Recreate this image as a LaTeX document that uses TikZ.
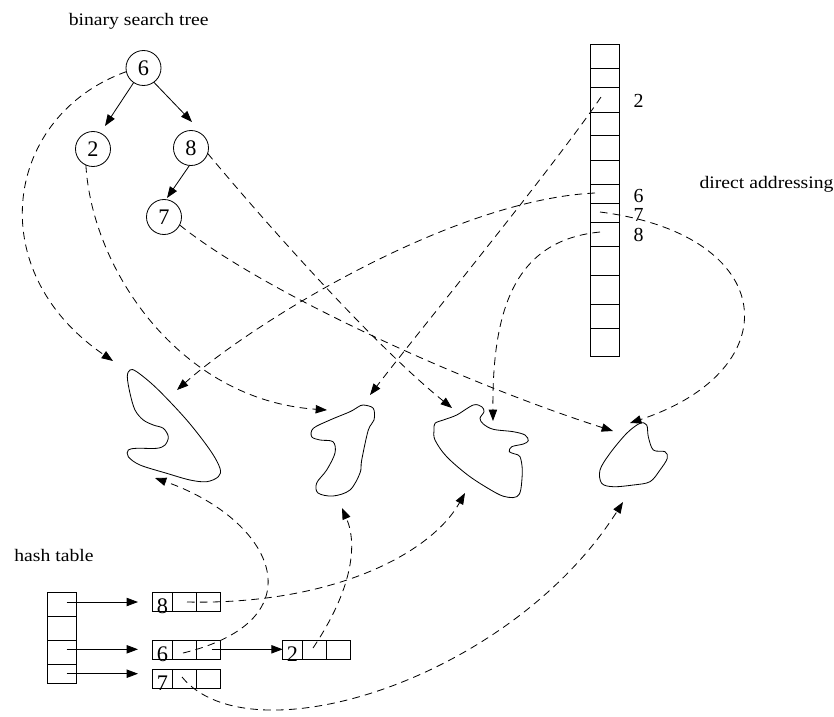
\documentclass[tikz,border=0pt]{standalone}
\usepackage{fontspec}
\setmainfont{Liberation Serif}
\newfontfamily\lblfont[FakeStretch=1.12]{Liberation Serif}
\usetikzlibrary{arrows.meta}
\begin{document}
\begin{tikzpicture}[x=0.03cm,y=-0.03cm,
  every node/.style={inner sep=0pt,outer sep=0pt},
  line/.style={line width=0.7pt},
  tip/.style={-{Triangle[length=3.4mm,width=2.5mm]}},
  link/.style={line width=0.7pt,dash pattern=on 6.5pt off 4.5pt,-{Triangle[length=3.4mm,width=2.5mm]}},
  treenode/.style={circle,draw,line width=0.7pt,minimum size=1.05cm,font=\fontsize{19}{19}\selectfont},
  lbl/.style={font=\lblfont\fontsize{15}{15}\selectfont},
  dig/.style={font=\fontsize{19}{19}\selectfont},
  dalbl/.style={font=\fontsize{17}{17}\selectfont},
  blob/.style={line width=0.7pt}
]
\useasboundingbox (0,0) rectangle (834,716);

% labels
\node[lbl,anchor=base] (tbst) at (138.7,25) {binary search tree};
\node[lbl,anchor=base east] (tda) at (833.5,188.3) {direct addressing};
\node[lbl,anchor=base] (tht) at (54,561) {hash table};

% tree
\node[treenode] (n6) at (143.5,68) {6};
\node[treenode] (n2) at (93,149) {2};
\node[treenode] (n8) at (191,148) {8};
\node[treenode] (n7) at (164,217) {7};
\coordinate (t2) at (105,126);
\coordinate (t8) at (192,122);
\coordinate (t7) at (167,198);
\draw[line,tip] (n6.236) -- (t2);
\draw[line,tip] (n6.-54) -- (t8);
\draw[line,tip] (n8.-95) -- (t7);

% direct addressing array
\draw[line] (590,44.3) rectangle (619,356.7);
\foreach \y in {68.3,87.7,112.3,135.7,160,184,203.3,222.3,246,275,304,328.3}
  \draw[line] (590,\y) -- (619,\y);
\node[dalbl] (d2) at (638.5,100.5) {2};
\node[dalbl] (d6) at (638.5,196) {6};
\node[dalbl] (d7) at (638.5,215) {7};
\node[dalbl] (d8) at (638.5,234.7) {8};
\coordinate (da2) at (601,97);
\coordinate (da6) at (595,193);
\coordinate (da7) at (600,212);
\coordinate (da8) at (600,232);

% blobs
\draw[blob] plot[smooth cycle,tension=0.55] coordinates {(130,370) (136.7,371.7) (156.7,388.3) (186.7,420) (210,450) (220,468.3) (218.3,476.7) (206.7,481.7) (190,480) (166.7,473.3) (140,465) (128.3,456.7) (128.3,450) (136.7,448.3) (156.7,448.3) (165,445) (168.3,436.7) (163.3,428.3) (153.3,425) (143.3,420) (135,410) (130,393.3) (127.3,376.7)};
\draw[blob] plot[smooth cycle,tension=0.55] coordinates {(363.3,405) (373.3,408.3) (374,420) (368.3,430) (361.7,460) (360,473) (350,490) (333,496) (318,493) (316.7,483) (326.7,470) (335,453) (333,441.7) (320,440) (311.7,436.7) (313.3,428.3) (330,420) (350,411.7) (358,407)};
\draw[blob] plot[smooth cycle,tension=0.55] coordinates {(435,423.3) (443.3,420) (456.7,415) (473.3,405) (481.7,406.7) (484,411.7) (480,418.3) (483.3,424) (493.3,429.3) (513.3,431.7) (525,435) (528.3,440.7) (523.3,444) (511.7,446.7) (509.3,451.7) (515,454) (520,456.7) (522.3,470) (520.7,490) (516.7,496.7) (508.3,497.3) (496.7,493.3) (470,476.7) (446.7,456.7) (435,440) (434,430)};
\draw[blob] plot[smooth cycle,tension=0.55] coordinates {(600,470) (610,453.3) (626.7,433.3) (640,423.3) (646.7,425) (648.3,436.7) (653.3,450) (665,451.7) (667.3,458.3) (660,470) (650,481.7) (633.3,485) (613.3,486.7) (601.7,483.3)};

% hash table
\draw[line] (47.3,592.3) rectangle (76,683.3);
\foreach \y in {616.7,640.7,664.3}
  \draw[line] (47.3,\y) -- (76,\y);
\coordinate (h1) at (66.7,602);
\coordinate (h3) at (66.7,649.3);
\coordinate (h4) at (66.7,673.7);
\coordinate (h1t) at (138,602);
\coordinate (h3t) at (138,649.3);
\coordinate (h4t) at (138,673.7);
\draw[line,tip] (h1) -- (h1t);
\draw[line,tip] (h3) -- (h3t);
\draw[line,tip] (h4) -- (h4t);

% records
\foreach \yt/\yb in {592.3/611.7,640.7/659.3,669/688.3}{
  \draw[line] (152.7,\yt) rectangle (220,\yb);
  \draw[line] (172.3,\yt) -- (172.3,\yb);
  \draw[line] (196.3,\yt) -- (196.3,\yb);
}
\draw[line] (282.7,640.7) rectangle (350,659.3);
\draw[line] (302.3,640.7) -- (302.3,659.3);
\draw[line] (326,640.7) -- (326,659.3);
\node[dig,anchor=base] (r8) at (162.5,613) {8};
\node[dig,anchor=base] (r6) at (162.5,661) {6};
\node[dig,anchor=base] (r7) at (162.5,690) {7};
\node[dig,anchor=base] (r2) at (292.5,661) {2};
\coordinate (s62) at (211.7,649.3);
\coordinate (s62t) at (282.7,649.3);
\draw[line,tip] (s62) -- (s62t);
\coordinate (hs8) at (187,602);
\coordinate (hs6) at (183,653);
\coordinate (hs7) at (182,677);
\coordinate (hs2) at (313,648);

% arrow tips at the blobs
\coordinate (b1a) at (113,361);
\coordinate (b1b) at (177,390);
\coordinate (b1c) at (155,478);
\coordinate (b2a) at (327,410);
\coordinate (b2b) at (370,395);
\coordinate (b2c) at (342,508);
\coordinate (b3a) at (452,408);
\coordinate (b3b) at (493,421);
\coordinate (b3c) at (465,493);
\coordinate (b4a) at (613,431);
\coordinate (b4b) at (630,423);
\coordinate (b4c) at (623,502);

% dashed links
\draw[link] (n6.192) .. controls (5,115) and (-20,270) .. (b1a);
\draw[link] (n2.246) .. controls (92,270) and (180,400) .. (b2a);
\draw[link] (n8.-18) .. controls (280,240) and (380,350) .. (b3a);
\draw[link] (n7.-27) .. controls (260,290) and (460,382) .. (b4a);
\draw[link] (da2) .. controls (555,165) and (420,330) .. (b2b);
\draw[link] (da6) .. controls (450,200) and (250,325) .. (b1b);
\draw[link] (da7) .. controls (780,235) and (790,370) .. (b4b);
\draw[link] (da8) .. controls (520,240) and (492,300) .. (b3b);
\draw[link] (hs8) .. controls (330,605) and (430,555) .. (b3c);
\draw[link] (hs6) .. controls (320,620) and (275,520) .. (b1c);
\draw[link] (hs2) .. controls (352,590) and (358,545) .. (b2c);
\draw[link] (hs7) .. controls (250,760) and (510,680) .. (b4c);
\end{tikzpicture}
\end{document}
